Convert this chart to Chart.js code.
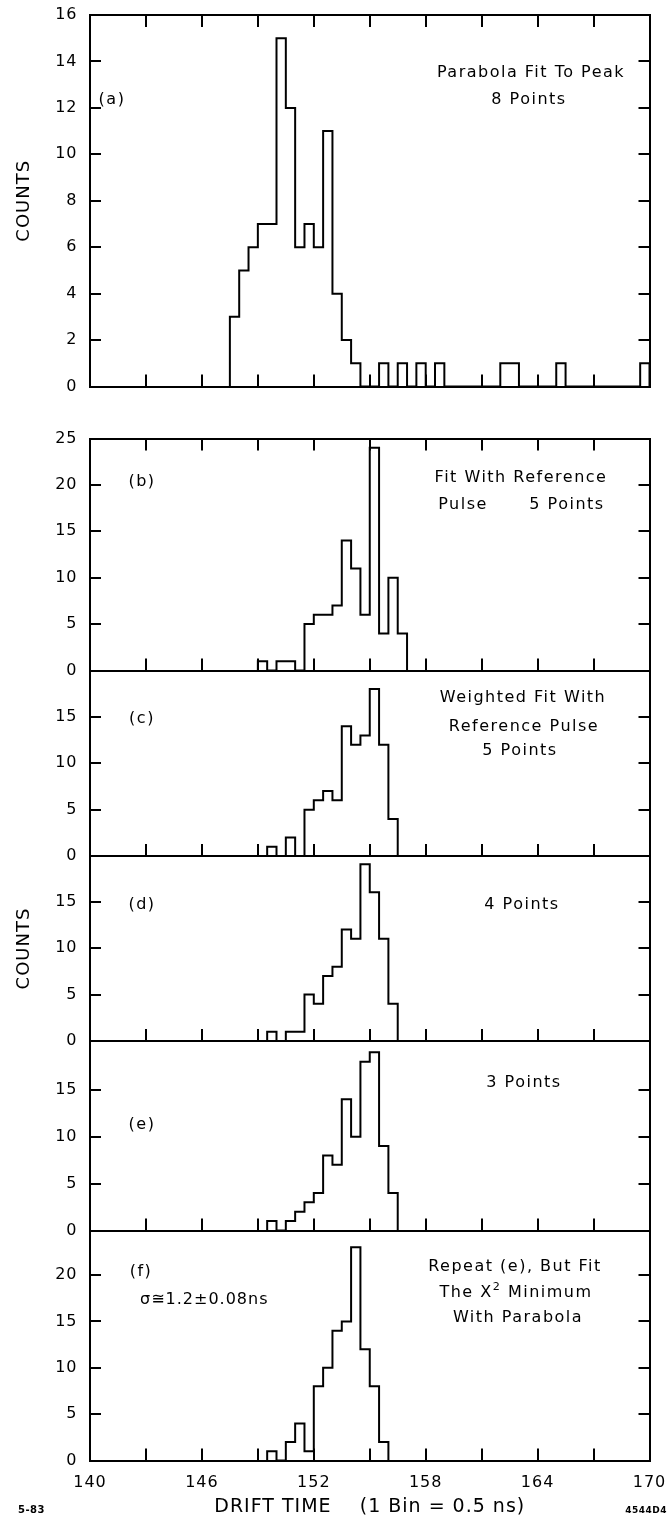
<!DOCTYPE html>
<html><head><meta charset="utf-8">
<script src="https://cdn.jsdelivr.net/npm/chart.js@4.4.1/dist/chart.umd.min.js"></script>
<style>
html,body{margin:0;padding:0;background:#fff;}
#wrap{position:relative;width:669px;height:1526px;overflow:hidden;background:#fff;}
#wrap canvas{position:absolute;left:0;top:0;}
</style></head>
<body><div id="wrap"></div>
<script>
// ---------------- data ----------------
const BIN = 0.5; // 1 bin = 0.5 ns
const xLabelsA = [170, 176, 182, 188, 194, 200];
const xLabelsBF = [140, 146, 152, 158, 164, 170];
const yTicksA = [0, 2, 4, 6, 8, 10, 12, 14, 16];
const yTicksB = [0, 5, 10, 15, 20, 25];
const yTicksCDE = [0, 5, 10, 15];
const yTicksF = [0, 5, 10, 15, 20];

const startA = 177.5;
const countsA = [3,5,6,7,7,15,12,6,7,6,11,4,2,1,0,0,1,0,1,0,1,0,1,0,0,0,0,0,0,1,1,0,0,0,0,1,0,0,0,0,0,0,0,0,1];
const startB = 149.0;
const countsB = [1,0,1,1,0,5,6,6,7,14,11,6,24,4,10,4];
const startC = 149.5;
const countsC = [1,0,2,0,5,6,7,6,14,12,13,18,12,4];
const startD = 149.5;
const countsD = [1,0,1,1,5,4,7,8,12,11,19,16,11,4];
const startE = 149.5;
const countsE = [1,0,1,2,3,4,8,7,14,10,18,19,9,4];
const startF = 149.5;
const countsF = [1,0,2,4,1,8,10,14,15,23,12,8,2];

// ---------------- layout ----------------
const W = 669, H = 1526;
const LEFT = 90, RIGHT = 649.5;
const FONT = '"DejaVu Sans", "Liberation Sans", sans-serif';

function steps(start, counts) {
  const pts = [{x: start, y: 0}];
  counts.forEach((c, i) => pts.push({x: start + i * BIN, y: c}));
  pts.push({x: start + counts.length * BIN, y: 0});
  return pts;
}
function every(min, max, step) {
  const out = [];
  for (let v = min; v <= max + 1e-9; v += step) out.push({value: v});
  return out;
}

const notesPlugin = {
  id: 'notes',
  afterDraw(chart, args, opts) {
    const ctx = chart.ctx;
    (opts.items || []).forEach(it => {
      ctx.save();
      ctx.fillStyle = '#000';
      ctx.letterSpacing = (it.ls !== undefined ? it.ls : 1.5) + 'px';
      const size = it.size || 16;
      const mk = (s) => `${it.bold ? 'bold ' : ''}${s}px ${FONT}`;
      ctx.textBaseline = 'middle';
      if (it.parts) {
        let total = 0;
        const ws = it.parts.map(p => { ctx.font = mk(p.sup ? size * 0.7 : size); const w = ctx.measureText(p.t).width; total += w; return w; });
        let x = it.x - total / 2;
        ctx.textAlign = 'left';
        it.parts.forEach((p, i) => {
          ctx.font = mk(p.sup ? size * 0.7 : size);
          ctx.fillText(p.t, x, p.sup ? it.y - size * 0.4 : it.y);
          x += ws[i];
        });
      } else {
        ctx.font = mk(size);
        ctx.textAlign = it.align || 'center';
        ctx.fillText(it.t, it.x, it.y);
      }
      ctx.restore();
    });
  }
};
const spacingPlugin = {
  id: 'spacing',
  beforeDraw(chart) { chart.ctx.letterSpacing = '1px'; }
};

const panels = [
  {start: startA, counts: countsA, xMin: 170, xMax: 200, yMax: 16, yTicks: yTicksA, xLabels: xLabelsA,
   top: 15, bottom: 386.5, showXLabels: true, topTicks: true, yTitle: true, xTitle: false,
   notes: [
     {t: '(a)', x: 112, y: 100},
     {t: 'Parabola Fit To Peak', x: 531, y: 73},
     {t: '8 Points', x: 529, y: 100}
   ]},
  {start: startB, counts: countsB, xMin: 140, xMax: 170, yMax: 25, yTicks: yTicksB, xLabels: xLabelsBF,
   top: 438.5, bottom: 670.5, showXLabels: false, topTicks: true, yTitle: false, xTitle: false,
   notes: [
     {t: '(b)', x: 142, y: 482},
     {t: 'Fit With Reference', x: 521, y: 478},
     {t: 'Pulse', x: 463, y: 505},
     {t: '5 Points', x: 567, y: 505}
   ]},
  {start: startC, counts: countsC, xMin: 140, xMax: 170, yMax: 20, yTicks: yTicksCDE, xLabels: xLabelsBF,
   top: 670.5, bottom: 856, showXLabels: false, topTicks: false, yTitle: false, xTitle: false,
   notes: [
     {t: '(c)', x: 142, y: 719},
     {t: 'Weighted Fit With', x: 523, y: 698},
     {t: 'Reference Pulse', x: 524, y: 727},
     {t: '5 Points', x: 520, y: 751}
   ]},
  {start: startD, counts: countsD, xMin: 140, xMax: 170, yMax: 19.9, yTicks: yTicksCDE, xLabels: xLabelsBF,
   top: 856, bottom: 1041, showXLabels: false, topTicks: false, yTitle: true, xTitle: false,
   notes: [
     {t: '(d)', x: 142, y: 905},
     {t: '4 Points', x: 522, y: 905}
   ]},
  {start: startE, counts: countsE, xMin: 140, xMax: 170, yMax: 20.2, yTicks: yTicksCDE, xLabels: xLabelsBF,
   top: 1041, bottom: 1230.5, showXLabels: false, topTicks: false, yTitle: false, xTitle: false,
   notes: [
     {t: '(e)', x: 142, y: 1125},
     {t: '3 Points', x: 524, y: 1083}
   ]},
  {start: startF, counts: countsF, xMin: 140, xMax: 170, yMax: 24.8, yTicks: yTicksF, xLabels: xLabelsBF,
   top: 1230.5, bottom: 1460.5, showXLabels: true, topTicks: false, yTitle: false, xTitle: true,
   notes: [
     {t: '(f)', x: 141, y: 1272},
     {t: 'σ≅1.2±0.08ns', x: 140, y: 1300, align: 'left', ls: 1},
     {t: 'Repeat (e), But Fit', x: 515, y: 1267},
     {parts: [{t: 'The X'}, {t: '2', sup: true}, {t: ' Minimum'}], x: 516, y: 1293},
     {t: 'With Parabola', x: 518, y: 1318},
     {t: '5-83', x: 18, y: 1510, align: 'left', size: 10, bold: true, ls: 0.5},
     {t: '4544D4', x: 667, y: 1511, align: 'right', size: 9, bold: true, ls: 0.5}
   ]}
];

const wrap = document.getElementById('wrap');
const tickGrid = (len, show) => ({display: show, drawOnChartArea: false, drawTicks: true, tickLength: len,
  lineWidth: 2, color: '#000', tickColor: '#000', tickWidth: 2});
const border = {display: true, width: 2, color: '#000'};
const noPad = s => { s.paddingLeft = 0; s.paddingRight = 0; s.paddingTop = 0; s.paddingBottom = 0; };

panels.forEach(p => {
  const cv = document.createElement('canvas');
  cv.width = W; cv.height = H;
  cv.style.width = W + 'px'; cv.style.height = H + 'px';
  wrap.appendChild(cv);
  const xHeight = p.xTitle ? 58 : 0;
  new Chart(cv, {
    type: 'line',
    data: {datasets: [{
      data: steps(p.start, p.counts), stepped: 'before',
      borderColor: '#000', borderWidth: 2, pointRadius: 0, fill: false,
      borderJoinStyle: 'miter', borderCapStyle: 'butt'
    }]},
    options: {
      responsive: false, animation: false, devicePixelRatio: 1, events: [],
      layout: {padding: {left: 0, right: W - RIGHT, top: p.top, bottom: H - p.bottom - xHeight}},
      plugins: {legend: {display: false}, tooltip: {enabled: false}, notes: {items: p.notes}},
      scales: {
        x: {
          type: 'linear', axis: 'x', position: 'bottom', min: p.xMin, max: p.xMax,
          afterBuildTicks: s => { s.ticks = every(p.xMin, p.xMax, 3); },
          afterFit: s => { s.height = xHeight; noPad(s); },
          grid: tickGrid(-12, true), border: border,
          ticks: {display: p.showXLabels, autoSkip: false, maxRotation: 0, padding: 25, color: '#000',
            font: {family: FONT, size: 16},
            callback: v => p.xLabels.includes(v) ? String(v) : ''},
          title: p.xTitle ? {display: true, text: 'DRIFT TIME    (1 Bin = 0.5 ns)', color: '#000',
            font: {family: FONT, size: 19}, padding: {top: 0, bottom: 0}} : {display: false}
        },
        xTop: {
          type: 'linear', axis: 'x', position: 'top', min: p.xMin, max: p.xMax,
          afterBuildTicks: s => { s.ticks = every(p.xMin, p.xMax, 3); },
          afterFit: s => { s.height = 0; noPad(s); },
          grid: tickGrid(-12, p.topTicks), border: border,
          ticks: {display: false, autoSkip: false}
        },
        y: {
          type: 'linear', axis: 'y', position: 'left', min: 0, max: p.yMax,
          afterBuildTicks: s => { s.ticks = p.yTicks.map(v => ({value: v})); },
          afterFit: s => { s.width = LEFT; noPad(s); },
          grid: tickGrid(-11, true), border: border,
          ticks: {padding: 23.5, color: '#000', font: {family: FONT, size: 16}, autoSkip: false,
            callback: v => String(v)},
          title: p.yTitle ? {display: true, text: 'COUNTS', color: '#000',
            font: {family: FONT, size: 18}, padding: {top: 14, bottom: 0}} : {display: false}
        },
        yR: {
          type: 'linear', axis: 'y', position: 'right', min: 0, max: p.yMax,
          afterBuildTicks: s => { s.ticks = p.yTicks.map(v => ({value: v})); },
          afterFit: s => { s.width = 0; noPad(s); },
          grid: tickGrid(-11, true), border: border,
          ticks: {display: false, autoSkip: false}
        }
      }
    },
    plugins: [spacingPlugin, notesPlugin]
  });
});
</script>
</body></html>
